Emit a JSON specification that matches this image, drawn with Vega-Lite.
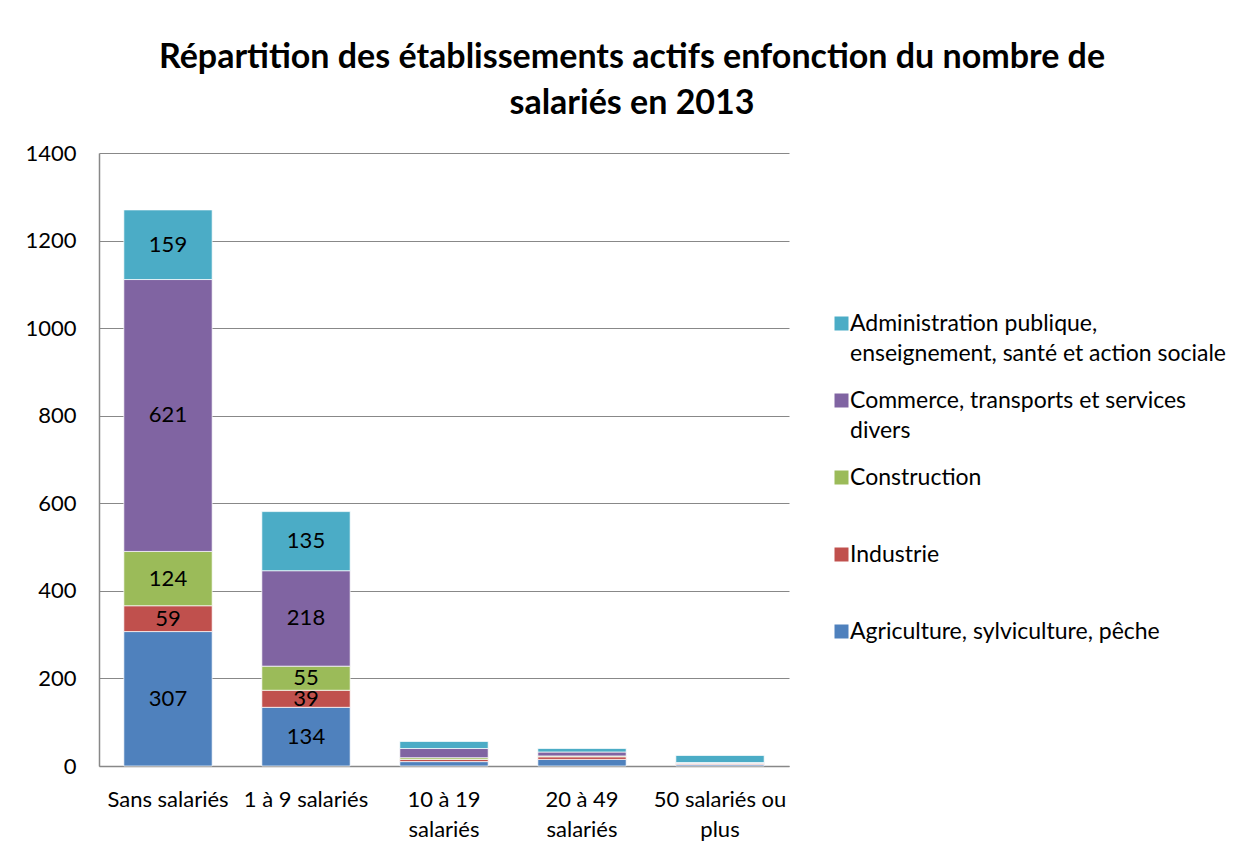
{
  "$schema": "https://vega.github.io/schema/vega-lite/v6.json",
  "width": 690,
  "height": 613,
  "autosize": {"type": "none"},
  "padding": {"left": 99, "top": 153, "right": 456, "bottom": 88},
  "background": "white",
  "config": {
    "font": "Lato",
    "view": {"stroke": null},
    "style": {"guide-label": {"lineHeight": 30, "dy": -11}},
    "axis": {"labelColor": "#000000", "labelFontSize": 22, "labelFont": "Lato", "domainColor": "#888888", "gridColor": "#888888", "ticks": false, "title": null}
  },
  "title": {
    "text": ["Répartition des établissements actifs enfonction du nombre de", "salariés en 2013"],
    "fontSize": 34,
    "fontWeight": "bold",
    "font": "Lato",
    "color": "#000000",
    "anchor": "middle",
    "frame": "group",
    "dx": 188,
    "offset": 21,
    "lineHeight": 46
  },
  "data": {
    "values": [
      {"cat": "Sans salariés", "sector": "Agriculture, sylviculture, pêche", "k": 1, "v": 307},
      {"cat": "Sans salariés", "sector": "Industrie", "k": 2, "v": 59},
      {"cat": "Sans salariés", "sector": "Construction", "k": 3, "v": 124},
      {"cat": "Sans salariés", "sector": "Commerce, transports et services divers", "k": 4, "v": 621},
      {"cat": "Sans salariés", "sector": "Administration publique, enseignement, santé et action sociale", "k": 5, "v": 159},
      {"cat": "1 à 9 salariés", "sector": "Agriculture, sylviculture, pêche", "k": 1, "v": 134},
      {"cat": "1 à 9 salariés", "sector": "Industrie", "k": 2, "v": 39},
      {"cat": "1 à 9 salariés", "sector": "Construction", "k": 3, "v": 55},
      {"cat": "1 à 9 salariés", "sector": "Commerce, transports et services divers", "k": 4, "v": 218},
      {"cat": "1 à 9 salariés", "sector": "Administration publique, enseignement, santé et action sociale", "k": 5, "v": 135},
      {"cat": "10 à 19 salariés", "sector": "Agriculture, sylviculture, pêche", "k": 1, "v": 10},
      {"cat": "10 à 19 salariés", "sector": "Industrie", "k": 2, "v": 5},
      {"cat": "10 à 19 salariés", "sector": "Construction", "k": 3, "v": 4},
      {"cat": "10 à 19 salariés", "sector": "Commerce, transports et services divers", "k": 4, "v": 21},
      {"cat": "10 à 19 salariés", "sector": "Administration publique, enseignement, santé et action sociale", "k": 5, "v": 16},
      {"cat": "20 à 49 salariés", "sector": "Agriculture, sylviculture, pêche", "k": 1, "v": 15},
      {"cat": "20 à 49 salariés", "sector": "Industrie", "k": 2, "v": 6},
      {"cat": "20 à 49 salariés", "sector": "Construction", "k": 3, "v": 2},
      {"cat": "20 à 49 salariés", "sector": "Commerce, transports et services divers", "k": 4, "v": 9},
      {"cat": "20 à 49 salariés", "sector": "Administration publique, enseignement, santé et action sociale", "k": 5, "v": 8},
      {"cat": "50 salariés ou plus", "sector": "Agriculture, sylviculture, pêche", "k": 1, "v": 3},
      {"cat": "50 salariés ou plus", "sector": "Industrie", "k": 2, "v": 2},
      {"cat": "50 salariés ou plus", "sector": "Construction", "k": 3, "v": 1},
      {"cat": "50 salariés ou plus", "sector": "Commerce, transports et services divers", "k": 4, "v": 2},
      {"cat": "50 salariés ou plus", "sector": "Administration publique, enseignement, santé et action sociale", "k": 5, "v": 16}
    ]
  },
  "encoding": {
    "x": {
      "field": "cat",
      "type": "nominal",
      "sort": ["Sans salariés", "1 à 9 salariés", "10 à 19 salariés", "20 à 49 salariés", "50 salariés ou plus"],
      "scale": {"paddingInner": 0.36, "paddingOuter": 0.18},
      "axis": {
        "labelAngle": 0,
        "labelPadding": 34,
        "labelLineHeight": 30,
        "domainWidth": 1.5,
        "labelExpr": "datum.value == '10 à 19 salariés' ? ['10 à 19', 'salariés'] : datum.value == '20 à 49 salariés' ? ['20 à 49', 'salariés'] : datum.value == '50 salariés ou plus' ? ['50 salariés ou', 'plus'] : datum.value"
      }
    }
  },
  "layer": [
    {
      "mark": {"type": "bar", "stroke": "#ffffff", "strokeWidth": 1, "strokeOpacity": 0.7},
      "encoding": {
        "y": {
          "field": "v",
          "type": "quantitative",
          "stack": "zero",
          "scale": {"domain": [0, 1400], "nice": false},
          "axis": {"values": [0, 200, 400, 600, 800, 1000, 1200, 1400], "format": "d", "labelPadding": 23, "labelOffset": 11, "domainWidth": 1.5}
        },
        "order": {"field": "k", "type": "quantitative"},
        "color": {
          "field": "sector",
          "type": "nominal",
          "scale": {
            "domain": ["Administration publique, enseignement, santé et action sociale", "Commerce, transports et services divers", "Construction", "Industrie", "Agriculture, sylviculture, pêche"],
            "range": ["#4BACC6", "#8064A2", "#9BBB59", "#C0504D", "#4F81BD"]
          },
          "legend": {
            "title": null,
            "orient": "none",
            "legendX": 731,
            "legendY": 159,
            "symbolType": "square",
            "symbolSize": 196,
            "symbolStrokeWidth": 0,
            "labelFontSize": 23,
            "labelFont": "Lato",
            "labelColor": "#000000",
            "labelLimit": 0,
            "labelOffset": -3,
            "gridAlign": "all",
            "rowPadding": 23,
            "labelBaseline": "top",
            "labelExpr": "datum.value == 'Administration publique, enseignement, santé et action sociale' ? ['Administration publique,', 'enseignement, santé et action sociale'] : datum.value == 'Commerce, transports et services divers' ? ['Commerce, transports et services', 'divers'] : datum.value"
          }
        }
      }
    },
    {
      "transform": [
        {"stack": "v", "groupby": ["cat"], "sort": [{"field": "k"}], "as": ["y0", "y1"]},
        {"filter": "datum.v >= 30"},
        {"fold": ["y0", "y1"], "as": ["edge", "pos"]},
        {"aggregate": [{"op": "mean", "field": "pos", "as": "mid"}], "groupby": ["cat", "sector", "v"]}
      ],
      "mark": {"type": "text", "fontSize": 22, "font": "Lato", "color": "#000000", "baseline": "middle"},
      "encoding": {
        "y": {"field": "mid", "type": "quantitative"},
        "text": {"field": "v", "type": "quantitative"}
      }
    }
  ]
}
